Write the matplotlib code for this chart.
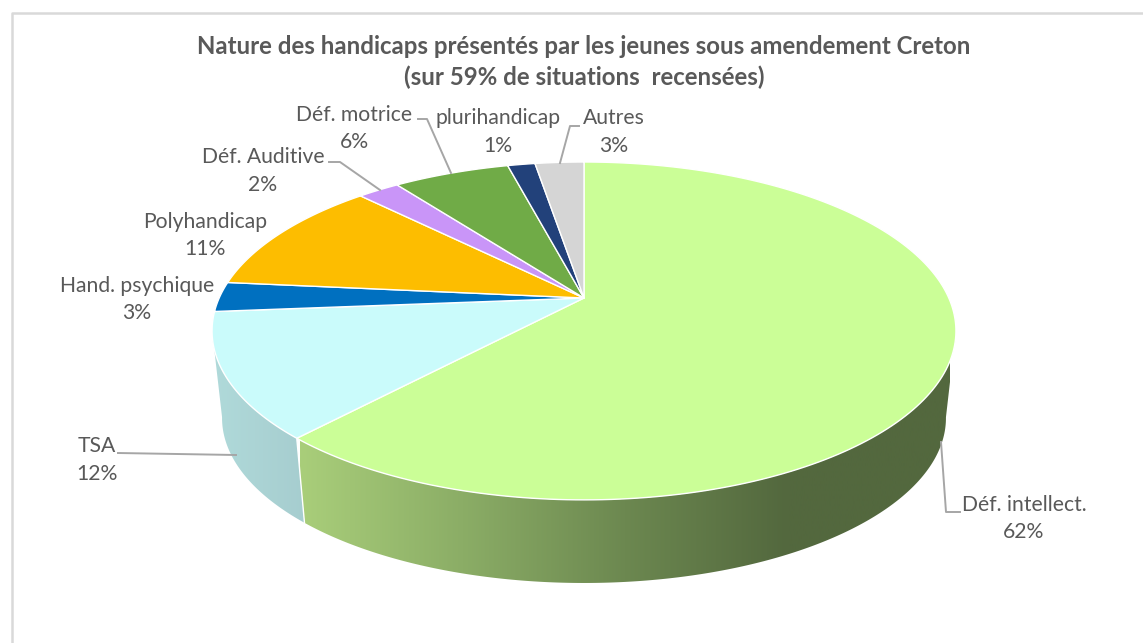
import numpy as np
import matplotlib
matplotlib.use("Agg")
import matplotlib.pyplot as plt
from matplotlib.colors import LinearSegmentedColormap
from matplotlib.patches import Polygon

plt.rcParams['font.family'] = ['Lato', 'DejaVu Sans']

# donnees du graphique (parts, arrondies a l'affichage)
labels = ["Déf. intellect.", "TSA", "Hand. psychique", "Polyhandicap", "Déf. Auditive",
          "Déf. motrice", "plurihandicap", "Autres"]
values = [61.77, 11.93, 2.85, 11.15, 2.2, 6.1, 1.44, 2.56]
colors = ["#CBFE97", "#CAFBFB", "#0070C0", "#FDBD00", "#C995F8", "#70AB47", "#22417A", "#D5D5D5"]

title_lines = ["Nature des handicaps présentés par les jeunes sous amendement Creton",
               "(sur 59% de situations  recensées)"]

# position du texte : (x centre, y 1re ligne, y 2e ligne)
label_pos = [(1024, 505, 532), (97, 446, 474), (137, 286, 313), (205, 222, 249),
             (263, 157, 185), (354, 115, 142), (498, 118, 146), (614, 118, 146)]
# traits de rappel
leaders = [[(941, 442), (946, 512), (960, 512)],
           [(118, 453), (236, 455)],
           [],
           [],
           [(329, 162), (340, 162), (380, 190)],
           [(418, 119), (427, 119), (451, 173)],
           [],
           [(579, 126), (570, 126), (560, 163)]]

# perspective du camembert (pixels de l'image)
CX = 584
PERSP = 0.195
TOP_R, TOP_A, TOP_B = 364.8, -104.4, 298
BOT_R, BOT_A, BOT_B = 355.0, -83.5, 385.8
RIM_START, RIM_END = 101.0, 259.0


def rim(theta, r, a, b):
    t = np.radians(theta)
    u, v = np.sin(t), np.cos(t)
    w = 1 + PERSP * v
    return np.column_stack([CX + r * u / w, (a * v + b) / w])


def top(theta):
    return rim(theta, TOP_R, TOP_A, TOP_B)


def bottom(theta):
    return rim(theta, BOT_R, BOT_A, BOT_B)


def side(ax, a1, a2, cmap, x0, x1):
    # face laterale avec degrade horizontal
    th = np.linspace(a1, a2, 200)
    pts = np.vstack([top(th), bottom(th)[::-1]])
    poly = Polygon(pts, closed=True, fc="none", ec="none")
    ax.add_patch(poly)
    grad = np.linspace(0, 1, 256).reshape(1, -1)
    im = ax.imshow(grad, cmap=cmap, extent=(x0, x1, 643, 0), aspect="auto", zorder=2, interpolation="bilinear")
    im.set_clip_path(poly)


fig = plt.figure(figsize=(11.43, 6.43), dpi=100)
ax = fig.add_axes([0, 0, 1, 1])
ax.set_xlim(0, 1143)
ax.set_ylim(643, 0)
ax.axis("off")

# cadre du graphique
ax.plot([11.5, 11.5, 1143], [643, 13, 13], color="#D9D9D9", lw=1.8, zorder=1)

edges = np.concatenate([[0], np.cumsum(values)]) * 3.6

green_side = LinearSegmentedColormap.from_list("g", ["#A9CE7A", "#8BAD66", "#6C8850", "#53683E", "#53683E"])
cyan_side = LinearSegmentedColormap.from_list("c", ["#B0DADA", "#A6CDCF"])
side(ax, RIM_START, edges[1], green_side, 300, 950)
side(ax, edges[1], RIM_END, cyan_side, 212, 306)
sep = np.vstack([top(edges[1]), bottom(edges[1])])
ax.plot(sep[:, 0], sep[:, 1], color="white", lw=1, zorder=3)

# dessus du camembert
for i in range(len(values)):
    th = np.linspace(edges[i], edges[i + 1], 200)
    pts = np.vstack([[[CX, TOP_B]], top(th)])
    ax.add_patch(Polygon(pts, closed=True, fc=colors[i], ec="white", lw=1, joinstyle="round", zorder=4))

for line in leaders:
    if line:
        xy = np.array(line)
        ax.plot(xy[:, 0], xy[:, 1], color="#A6A6A6", lw=1.4, zorder=5)

for i in range(len(labels)):
    x, y1, y2 = label_pos[i]
    ax.text(x, y1, labels[i], ha="center", va="center", fontsize=15.2, color="#595959", zorder=6)
    ax.text(x, y2, "%d%%" % round(values[i]), ha="center", va="center", fontsize=15.2, color="#595959", zorder=6)

ax.text(584, 47, title_lines[0], ha="center", va="center", fontsize=17.3, fontweight="bold", color="#595959")
ax.text(584, 77, title_lines[1], ha="center", va="center", fontsize=17.3, fontweight="bold", color="#595959")

ax.set_xlim(0, 1143)
ax.set_ylim(643, 0)
fig.savefig("out.png", dpi=100)
